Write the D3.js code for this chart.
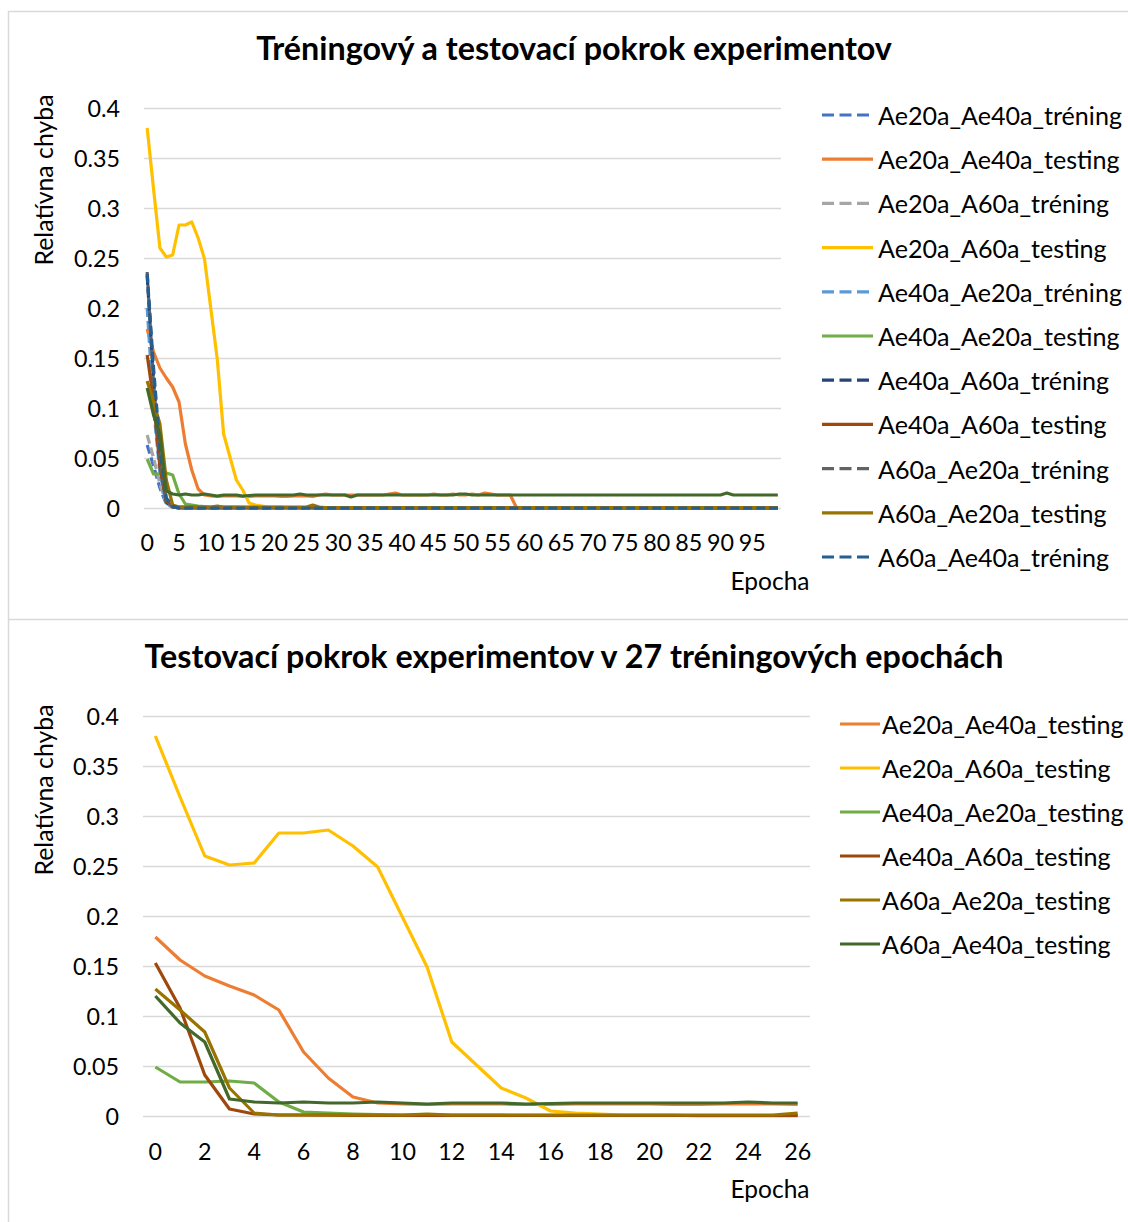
<!DOCTYPE html>
<html>
<head>
<meta charset="utf-8">
<script src="https://cdn.jsdelivr.net/npm/d3@7"></script>
<style>
  html, body { margin: 0; padding: 0; background: #ffffff; }
  svg { display: block; }
  text { font-family: Lato, "Open Sans", "DejaVu Sans", sans-serif; fill: #000; }
</style>
</head>
<body>
<svg id="chart" width="1128" height="1222"></svg>
<script>
// ---- data: relative error per epoch (0..99) ----
const epochsAll = d3.range(100);
const epochsShort = d3.range(27);

const seriesNames = [
  "Ae20a_Ae40a_tréning", "Ae20a_Ae40a_testing",
  "Ae20a_A60a_tréning", "Ae20a_A60a_testing",
  "Ae40a_Ae20a_tréning", "Ae40a_Ae20a_testing",
  "Ae40a_A60a_tréning", "Ae40a_A60a_testing",
  "A60a_Ae20a_tréning", "A60a_Ae20a_testing",
  "A60a_Ae40a_tréning", "A60a_Ae40a_testing"
];
const seriesColors = [
  "#4472C4", "#ED7D31", "#A5A5A5", "#FFC000", "#5B9BD5", "#70AD47",
  "#264478", "#9E480E", "#636363", "#997300", "#255E91", "#43682B"
];

const ae20aAe40aTrening = [
  0.063,0.042,0.020,0.004,0.001,0,0,0,0,0,
  0,0,0,0,0,0,0,0,0,0,
  0,0,0,0,0,0,0,0,0,0,
  0,0,0,0,0,0,0,0,0,0,
  0,0,0,0,0,0,0,0,0,0,
  0,0,0,0,0,0,0,0,0,0,
  0,0,0,0,0,0,0,0,0,0,
  0,0,0,0,0,0,0,0,0,0,
  0,0,0,0,0,0,0,0,0,0,
  0,0,0,0,0,0,0,0,0,0
];
const ae20aAe40aTesting = [
  0.179,0.156,0.140,0.130,0.121,0.106,0.064,0.038,0.019,0.013,
  0.012,0.0115,0.012,0.012,0.012,0.0115,0.0115,0.012,0.012,0.012,
  0.012,0.0115,0.0115,0.012,0.012,0.012,0.0115,0.013,0.014,0.013,
  0.013,0.013,0.013,0.013,0.013,0.013,0.013,0.013,0.014,0.015,
  0.013,0.013,0.013,0.013,0.013,0.014,0.013,0.013,0.014,0.013,
  0.013,0.014,0.013,0.015,0.014,0.013,0.013,0.013,0,0,
  0,0,0,0,0,0,0,0,0,0,
  0,0,0,0,0,0,0,0,0,0,
  0,0,0,0,0,0,0,0,0,0,
  0,0,0,0,0,0,0,0,0,0
];
const ae20aA60aTrening = [
  0.073,0.050,0.024,0.005,0.001,0,0,0,0,0,
  0,0,0,0,0,0,0,0,0,0,
  0,0,0,0,0,0,0,0,0,0,
  0,0,0,0,0,0,0,0,0,0,
  0,0,0,0,0,0,0,0,0,0,
  0,0,0,0,0,0,0,0,0,0,
  0,0,0,0,0,0,0,0,0,0,
  0,0,0,0,0,0,0,0,0,0,
  0,0,0,0,0,0,0,0,0,0,
  0,0,0,0,0,0,0,0,0,0
];
const ae20aA60aTesting = [
  0.380,0.319,0.260,0.251,0.253,0.283,0.283,0.286,0.270,0.249,
  0.199,0.149,0.074,0.051,0.028,0.018,0.005,0.003,0.002,0.001,
  0.001,0.001,0,0,0,0,0,0,0,0,
  0,0,0,0,0,0,0,0,0,0,
  0,0,0,0,0,0,0,0,0,0,
  0,0,0,0,0,0,0,0,0,0,
  0,0,0,0,0,0,0,0,0,0,
  0,0,0,0,0,0,0,0,0,0,
  0,0,0,0,0,0,0,0,0,0,
  0,0,0,0,0,0,0,0,0,0
];
const ae40aAe20aTrening = [
  0.200,0.100,0.035,0.005,0.001,0,0,0,0,0,
  0,0,0,0,0,0,0,0,0,0,
  0,0,0,0,0,0,0,0,0,0,
  0,0,0,0,0,0,0,0,0,0,
  0,0,0,0,0,0,0,0,0,0,
  0,0,0,0,0,0,0,0,0,0,
  0,0,0,0,0,0,0,0,0,0,
  0,0,0,0,0,0,0,0,0,0,
  0,0,0,0,0,0,0,0,0,0,
  0,0,0,0,0,0,0,0,0,0
];
const ae40aAe20aTesting = [
  0.049,0.034,0.034,0.035,0.033,0.014,0.004,0.003,0.002,0.0015,
  0.001,0.001,0.001,0.0008,0.0008,0.0006,0.0006,0.0005,0.0005,0.0005,
  0.0005,0.0005,0.0005,0.0005,0.0005,0.0005,0.0005,0,0,0,
  0,0,0,0,0,0,0,0,0,0,
  0,0,0,0,0,0,0,0,0,0,
  0,0,0,0,0,0,0,0,0,0,
  0,0,0,0,0,0,0,0,0,0,
  0,0,0,0,0,0,0,0,0,0,
  0,0,0,0,0,0,0,0,0,0,
  0,0,0,0,0,0,0,0,0,0
];
const ae40aA60aTrening = [
  0.232,0.130,0.045,0.006,0.001,0,0,0,0,0,
  0,0,0,0,0,0,0,0,0,0,
  0,0,0,0,0,0,0,0,0,0,
  0,0,0,0,0,0,0,0,0,0,
  0,0,0,0,0,0,0,0,0,0,
  0,0,0,0,0,0,0,0,0,0,
  0,0,0,0,0,0,0,0,0,0,
  0,0,0,0,0,0,0,0,0,0,
  0,0,0,0,0,0,0,0,0,0,
  0,0,0,0,0,0,0,0,0,0
];
const ae40aA60aTesting = [
  0.153,0.108,0.041,0.007,0.002,0.001,0.001,0.0008,0.0006,0.0005,
  0.0005,0.0005,0.0005,0.0005,0.0005,0.0005,0.0005,0.0005,0.0005,0.0005,
  0.0005,0.0005,0.0005,0.0005,0.0005,0.0005,0.0005,0,0,0,
  0,0,0,0,0,0,0,0,0,0,
  0,0,0,0,0,0,0,0,0,0,
  0,0,0,0,0,0,0,0,0,0,
  0,0,0,0,0,0,0,0,0,0,
  0,0,0,0,0,0,0,0,0,0,
  0,0,0,0,0,0,0,0,0,0,
  0,0,0,0,0,0,0,0,0,0
];
const a60aAe20aTrening = [
  0.236,0.125,0.050,0.008,0.001,0,0,0,0,0,
  0,0,0,0,0,0,0,0,0,0,
  0,0,0,0,0,0,0,0,0,0,
  0,0,0,0,0,0,0,0,0,0,
  0,0,0,0,0,0,0,0,0,0,
  0,0,0,0,0,0,0,0,0,0,
  0,0,0,0,0,0,0,0,0,0,
  0,0,0,0,0,0,0,0,0,0,
  0,0,0,0,0,0,0,0,0,0,
  0,0,0,0,0,0,0,0,0,0
];
const a60aAe20aTesting = [
  0.127,0.106,0.084,0.028,0.003,0.001,0.001,0.001,0.001,0.001,
  0.001,0.002,0.001,0.001,0.001,0.001,0.001,0.001,0.001,0.001,
  0.001,0.001,0.001,0.001,0.001,0.001,0.003,0.001,0.0005,0.0005,
  0.0005,0.0005,0.0005,0.0005,0.0005,0.0005,0.0005,0.0005,0.0005,0.0005,
  0.0005,0.0005,0.0005,0.0005,0.0005,0.0005,0.0005,0.0005,0.0005,0.0005,
  0.0005,0.0005,0.0005,0.0005,0.0005,0.0005,0.0005,0.0005,0.0005,0.0005,
  0.0005,0.0005,0.0005,0.0005,0.0005,0.0005,0.0005,0.0005,0.0005,0.0005,
  0.0005,0.0005,0.0005,0.0005,0.0005,0.0005,0.0005,0.0005,0.0005,0.0005,
  0.0005,0.0005,0.0005,0.0005,0.0005,0.0005,0.0005,0.0005,0.0005,0.0005,
  0.0005,0.0005,0.0005,0.0005,0.0005,0.0005,0.0005,0.0005,0.0005,0.0005
];
const a60aAe40aTrening = [
  0.234,0.140,0.060,0.010,0.002,0,0,0,0,0,
  0,0,0,0,0,0,0,0,0,0,
  0,0,0,0,0,0,0,0,0,0,
  0,0,0,0,0,0,0,0,0,0,
  0,0,0,0,0,0,0,0,0,0,
  0,0,0,0,0,0,0,0,0,0,
  0,0,0,0,0,0,0,0,0,0,
  0,0,0,0,0,0,0,0,0,0,
  0,0,0,0,0,0,0,0,0,0,
  0,0,0,0,0,0,0,0,0,0
];
const a60aAe40aTesting = [
  0.120,0.093,0.074,0.017,0.014,0.013,0.014,0.013,0.013,0.014,
  0.013,0.012,0.013,0.013,0.013,0.012,0.0125,0.013,0.013,0.013,
  0.013,0.013,0.013,0.013,0.014,0.013,0.013,0.013,0.013,0.013,
  0.013,0.013,0.011,0.013,0.013,0.013,0.013,0.013,0.013,0.013,
  0.013,0.013,0.013,0.013,0.013,0.013,0.013,0.013,0.013,0.014,
  0.014,0.013,0.013,0.013,0.013,0.013,0.013,0.013,0.013,0.013,
  0.013,0.013,0.013,0.013,0.013,0.013,0.013,0.013,0.013,0.013,
  0.013,0.013,0.013,0.013,0.013,0.013,0.013,0.013,0.013,0.013,
  0.013,0.013,0.013,0.013,0.013,0.013,0.013,0.013,0.013,0.013,
  0.013,0.015,0.013,0.013,0.013,0.013,0.013,0.013,0.013,0.013
];

const seriesValues = [
  ae20aAe40aTrening, ae20aAe40aTesting,
  ae20aA60aTrening, ae20aA60aTesting,
  ae40aAe20aTrening, ae40aAe20aTesting,
  ae40aA60aTrening, ae40aA60aTesting,
  a60aAe20aTrening, a60aAe20aTesting,
  a60aAe40aTrening, a60aAe40aTesting
];

const yTicks = [0, 0.05, 0.1, 0.15, 0.2, 0.25, 0.3, 0.35, 0.4];
const yTickLabels = ["0", "0.05", "0.1", "0.15", "0.2", "0.25", "0.3", "0.35", "0.4"];
const xTicksTop = [0, 5, 10, 15, 20, 25, 30, 35, 40, 45, 50, 55, 60, 65, 70, 75, 80, 85, 90, 95];
const xTicksBottom = [0, 2, 4, 6, 8, 10, 12, 14, 16, 18, 20, 22, 24, 26];

const titleTop = "Tréningový a testovací pokrok experimentov";
const titleBottom = "Testovací pokrok experimentov v 27 tréningových epochách";
const yAxisTitle = "Relatívna chyba";
const xAxisTitle = "Epocha";

// ---- drawing ----
const svg = d3.select("#chart");
const FONT = 'Lato, "Open Sans", "DejaVu Sans", sans-serif';

// font size that makes `str` take `width` pixels
function fitSize(str, width, weight) {
  const probe = svg.append("text").attr("font-size", 100)
    .attr("font-weight", weight || "normal").text(str);
  const w = probe.node().getComputedTextLength();
  probe.remove();
  return 100 * width / w;
}

const sizeTitle = fitSize(titleTop, 636, "bold");
const sizeLegend = fitSize("Ae20a_Ae40a_tréning", 244);
const sizeTick = fitSize("0.35", 46);
const sizeAxisTitle = fitSize(yAxisTitle, 171);
const sizeEpocha = fitSize(xAxisTitle, 79);

// chart frames
svg.append("path")
  .attr("d", "M8.5,1222 V11.5 H1128 M8.5,619.5 H1128")
  .attr("fill", "none").attr("stroke", "#d9d9d9").attr("stroke-width", 1.5);

function drawPanel(cfg) {
  const g = svg.append("g");
  const x = d3.scaleBand().domain(cfg.epochs).range([cfg.left, cfg.right]).paddingInner(0).paddingOuter(0);
  const cx = i => x(i) + x.bandwidth() / 2;
  const y = d3.scaleLinear().domain([0, 0.4]).range([cfg.bottom, cfg.top]);

  // title
  g.append("text")
    .attr("x", 574).attr("y", cfg.titleY)
    .attr("text-anchor", "middle").attr("dominant-baseline", "central")
    .attr("font-size", sizeTitle).attr("font-weight", "bold")
    .text(cfg.title);

  // gridlines
  g.append("g").selectAll("line").data(yTicks).join("line")
    .attr("x1", cfg.left).attr("x2", cfg.right)
    .attr("y1", d => Math.round(y(d)) + 0.5).attr("y2", d => Math.round(y(d)) + 0.5)
    .attr("stroke", "#d9d9d9").attr("stroke-width", 1.3);

  // y axis labels
  const yAxis = d3.axisLeft(y).tickValues(yTicks)
    .tickFormat((d, i) => yTickLabels[i]).tickSize(0).tickPadding(0);
  const ya = g.append("g").attr("transform", `translate(${cfg.left - 24},0)`).call(yAxis);
  ya.select(".domain").remove();
  ya.selectAll("text").attr("font-size", sizeTick).attr("font-family", FONT)
    .attr("fill", "#000").attr("dy", "0.35em");

  // x axis labels
  const xAxis = d3.axisBottom(x).tickValues(cfg.xTicks).tickSize(0).tickPadding(0);
  const xa = g.append("g").attr("transform", `translate(0,${cfg.xLabelY})`).call(xAxis);
  xa.select(".domain").remove();
  xa.selectAll("text").attr("font-size", sizeTick).attr("font-family", FONT)
    .attr("fill", "#000").attr("dy", "0.35em").attr("y", 0);

  // axis titles
  g.append("text")
    .attr("transform", `translate(43,${cfg.yTitleY}) rotate(-90)`)
    .attr("text-anchor", "middle").attr("dominant-baseline", "central")
    .attr("font-size", sizeAxisTitle).text(yAxisTitle);
  g.append("text")
    .attr("x", 770).attr("y", cfg.xTitleY)
    .attr("text-anchor", "middle").attr("dominant-baseline", "central")
    .attr("font-size", sizeEpocha).text(xAxisTitle);

  // series lines
  const line = d3.line().x((d, i) => cx(i)).y(d => y(d)).curve(d3.curveLinear);
  const lines = g.append("g");
  cfg.series.forEach(k => {
    const vals = seriesValues[k].slice(0, cfg.epochs.length);
    const dashed = seriesNames[k].endsWith("tréning");
    lines.append("path")
      .attr("d", line(vals))
      .attr("fill", "none")
      .attr("stroke", seriesColors[k])
      .attr("stroke-width", 3.2)
      .attr("stroke-linejoin", "round")
      .attr("stroke-dasharray", dashed ? "9,4" : null);
  });

  // legend
  const leg = g.append("g");
  cfg.legend.forEach((k, j) => {
    const ly = cfg.legendY + j * cfg.legendStep;
    const dashed = seriesNames[k].endsWith("tréning");
    leg.append("line")
      .attr("x1", cfg.legendX1).attr("x2", dashed ? cfg.legendX2 - 4 : cfg.legendX2)
      .attr("y1", ly).attr("y2", ly)
      .attr("stroke", seriesColors[k]).attr("stroke-width", 3.2)
      .attr("stroke-dasharray", dashed ? "12,5.5" : null);
    leg.append("text")
      .attr("x", cfg.legendTextX).attr("y", ly)
      .attr("dominant-baseline", "central")
      .attr("font-size", sizeLegend)
      .text(seriesNames[k]);
  });
}

drawPanel({
  epochs: epochsAll, left: 144, right: 781, top: 108, bottom: 508,
  title: titleTop, titleY: 47, xTicks: xTicksTop, xLabelY: 543,
  yTitleY: 180, xTitleY: 580,
  series: d3.range(12),
  legend: d3.range(11), legendY: 115, legendStep: 44.2,
  legendX1: 822, legendX2: 873, legendTextX: 878
});

drawPanel({
  epochs: epochsShort, left: 143, right: 810, top: 716, bottom: 1116,
  title: titleBottom, titleY: 655, xTicks: xTicksBottom, xLabelY: 1152,
  yTitleY: 790, xTitleY: 1188,
  series: [1, 3, 5, 7, 9, 11],
  legend: [1, 3, 5, 7, 9, 11], legendY: 724, legendStep: 44,
  legendX1: 840, legendX2: 880, legendTextX: 882
});
</script>
</body>
</html>
